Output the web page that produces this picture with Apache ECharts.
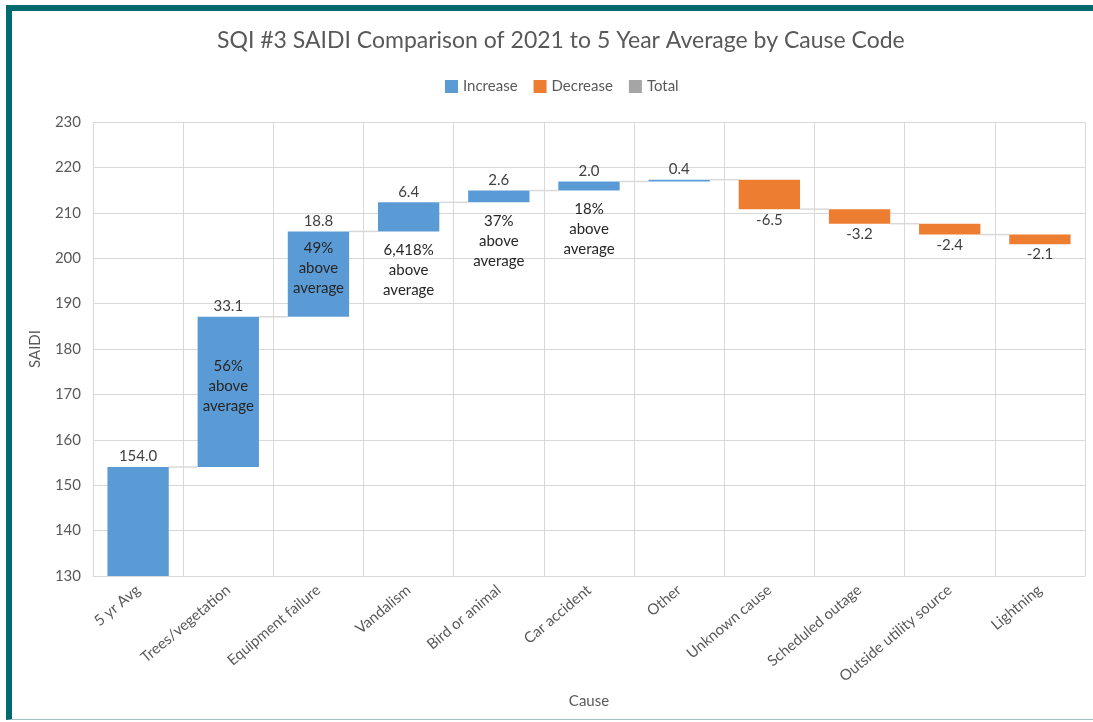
<!DOCTYPE html>
<html>
<head>
<meta charset="utf-8">
<script src="https://cdn.jsdelivr.net/npm/echarts@6/dist/echarts.min.js"></script>
<style>
  html, body { margin: 0; padding: 0; background: #fff; }
  #frame { position: absolute; left: 6px; top: 5px; width: 1087px; height: 715px;
           border-top: 6px solid #006b6f; border-left: 6px solid #006b6f;
           border-bottom: 1px solid #9fbfc0; box-sizing: border-box; }
  #main { position: absolute; left: 0; top: 0; width: 1093px; height: 722px; }
</style>
</head>
<body>
<div id="frame"></div>
<div id="main"></div>
<script>
// categories and changes (SAIDI minutes)
var causes = ['5 yr Avg', 'Trees/vegetation', 'Equipment failure', 'Vandalism', 'Bird or animal',
              'Car accident', 'Other', 'Unknown cause', 'Scheduled outage', 'Outside utility source', 'Lightning'];
var changes = [154.0, 33.1, 18.8, 6.4, 2.6, 2.0, 0.4, -6.5, -3.2, -2.4, -2.1];
// extra notes on some bars
var notes = ['', '56%\nabove\naverage', '49%\nabove\naverage', '6,418%\nabove\naverage',
             '37%\nabove\naverage', '18%\nabove\naverage', '', '', '', '', ''];
var yTicks = [130, 140, 150, 160, 170, 180, 190, 200, 210, 220, 230];

var BAR_FRAC = 0.68;

//累计求底和顶
var baseData = [], upData = [], downData = [], ends = [];
var total = 0;
for (var i = 0; i < changes.length; i++) {
    var start = total;
    total = total + changes[i];
    ends.push(total);
    if (changes[i] >= 0) {
        baseData.push(start);
        upData.push(changes[i]);
        downData.push('-');
    } else {
        baseData.push(total);
        upData.push('-');
        downData.push(-changes[i]);
    }
}

//连接线数据
var connData = [];
for (var i = 0; i < ends.length - 1; i++) {
    connData.push([i, ends[i]]);
}

//注释位置: 前两个在柱内, 其余在柱下
var noteData = [];
for (var i = 0; i < notes.length; i++) {
    if (!notes[i]) continue;
    var lo = ends[i] - changes[i];
    if (i <= 2) {
        noteData.push([i, lo + changes[i] / 2, notes[i], 'in']);
    } else {
        noteData.push([i, lo, notes[i], 'below']);
    }
}

var textColor = '#595959';
var font = 'Lato, "Open Sans", sans-serif';

var chart = echarts.init(document.getElementById('main'));
var option = {
    backgroundColor: 'transparent',
    animation: false,
    textStyle: { fontFamily: font },
    title: {
        text: 'SQI #3 SAIDI Comparison of 2021 to 5 Year Average by Cause Code',
        left: 212,
        top: 24,
        textStyle: { color: textColor, fontSize: 23, fontWeight: 'normal', fontFamily: font }
    },
    legend: {
        data: ['Increase', 'Decrease', 'Total'],
        top: 74,
        left: 440,
        icon: 'rect',
        itemWidth: 13,
        itemHeight: 13,
        itemGap: 16,
        textStyle: { color: textColor, fontSize: 15, fontFamily: font }
    },
    grid: { left: 93, right: 8, top: 122, bottom: 146 },
    xAxis: {
        type: 'category',
        data: causes,
        name: 'Cause',
        nameLocation: 'middle',
        nameGap: 118,
        nameTextStyle: { color: textColor, fontSize: 15 },
        axisLine: { lineStyle: { color: '#d9d9d9' } },
        axisTick: { show: false },
        axisLabel: { color: textColor, fontSize: 15, rotate: 40, margin: 12, interval: 0 },
        splitLine: { show: true, lineStyle: { color: '#d9d9d9' } }
    },
    yAxis: {
        type: 'value',
        min: yTicks[0],
        max: yTicks[yTicks.length - 1],
        interval: 10,
        name: 'SAIDI',
        nameLocation: 'middle',
        nameRotate: 90,
        nameGap: 50,
        nameTextStyle: { color: textColor, fontSize: 15 },
        axisLine: { show: false },
        axisTick: { show: false },
        axisLabel: { color: textColor, fontSize: 15, margin: 12 },
        splitLine: { lineStyle: { color: '#d9d9d9' } }
    },
    series: [
        {
            name: 'base',
            type: 'bar',
            stack: 'w',
            barWidth: (BAR_FRAC * 100) + '%',
            itemStyle: { color: 'transparent' },
            data: baseData,
            silent: true
        },
        {
            name: 'Increase',
            type: 'bar',
            stack: 'w',
            itemStyle: { color: '#5b9bd5' },
            label: {
                show: true,
                position: 'top',
                distance: 3,
                color: '#404040',
                fontSize: 15,
                formatter: function (p) { return changes[p.dataIndex].toFixed(1); }
            },
            data: upData
        },
        {
            name: 'Decrease',
            type: 'bar',
            stack: 'w',
            itemStyle: { color: '#ed7d31' },
            label: {
                show: true,
                position: 'bottom',
                distance: 3,
                color: '#404040',
                fontSize: 15,
                formatter: function (p) { return changes[p.dataIndex].toFixed(1); }
            },
            data: downData
        },
        {
            name: 'Total',
            type: 'bar',
            stack: 'w',
            itemStyle: { color: '#a5a5a5' },
            data: []
        },
        {
            name: 'conn',
            type: 'custom',
            silent: true,
            data: connData,
            renderItem: function (params, api) {
                var p = api.coord([api.value(0), api.value(1)]);
                var cw = api.size([1, 0])[0];
                var half = cw * BAR_FRAC / 2;
                return {
                    type: 'line',
                    shape: { x1: p[0] + half, y1: p[1], x2: p[0] + cw - half, y2: p[1] },
                    style: { stroke: '#d9d9d9', lineWidth: 1.5 }
                };
            },
            z: 1
        },
        {
            name: 'notes',
            type: 'custom',
            silent: true,
            data: noteData,
            renderItem: function (params, api) {
                var d = noteData[params.dataIndex];
                var p = api.coord([d[0], d[1]]);
                var inside = d[3] == 'in';
                return {
                    type: 'text',
                    style: {
                        text: d[2],
                        x: p[0],
                        y: inside ? p[1] - 6 : p[1] + 9,
                        align: 'center',
                        verticalAlign: inside ? 'middle' : 'top',
                        fill: '#262626',
                        font: '15px ' + font,
                        lineHeight: 20
                    }
                };
            },
            z: 5
        }
    ]
};
chart.setOption(option);
</script>
</body>
</html>
